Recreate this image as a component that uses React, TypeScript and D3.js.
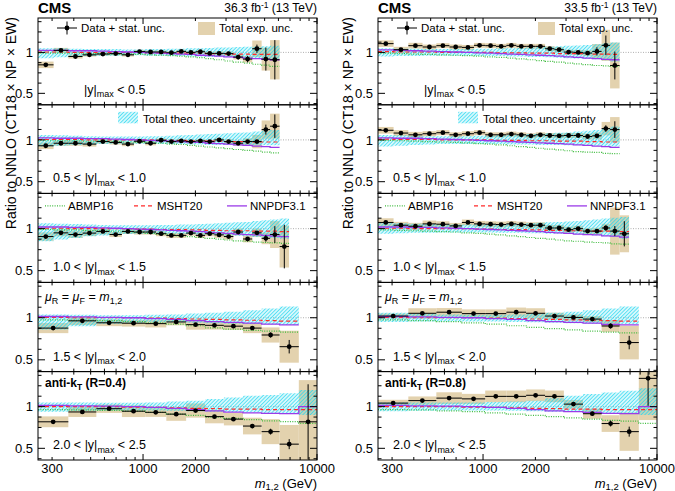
import { useEffect, useRef } from "react";
import * as d3 from "d3";

// dijet mass bin edges (GeV)
const MASS_EDGES = [
  249, 306, 372, 449, 539, 641, 756, 887, 1029, 1187, 1361, 1556, 1769, 2008,
  2273, 2572, 2915, 3306, 3754, 4244, 4805, 5374, 6094, 6908, 7861, 8929, 10050,
];
const MASS_EDGES_COARSE = [
  249, 372, 539, 756, 1029, 1361, 1769, 2273, 2915, 3754, 4805, 6094, 7861, 10050,
];

const X_TICKS_MINOR = [300, 400, 500, 600, 700, 800, 900, 2000, 3000, 4000, 5000, 6000, 7000, 8000, 9000];
const X_TICKS_MAJOR = [1000, 10000];
const X_TICK_LABELS = [300, 1000, 2000, 10000];
const Y_TICKS_MAJOR = [0.5, 1];
const Y_TICKS_MINOR = [0.375, 0.625, 0.75, 0.875, 1.125, 1.25, 1.375];
const Y_TICK_LABELS = ["0.5", "1"];
const Y_BINS = ["0.5", "1.0", "1.5", "2.0", "2.5"];

// ---------- R = 0.4 (left) ----------
const L1_DATA = [0.848, 1.025, 0.95, 0.97, 0.98, 0.985, 0.97, 1.01, 1.005, 1.005, 0.996, 1.012, 1.0, 1.008, 0.988, 0.988, 0.985, 0.943, 0.918, 1.045, 0.918, 0.91];
const L1_STAT = [0.005, 0.005, 0.005, 0.005, 0.005, 0.005, 0.005, 0.005, 0.005, 0.005, 0.005, 0.005, 0.005, 0.006, 0.008, 0.01, 0.012, 0.03, 0.04, 0.05, 0.14, 0.24];
const L1_EXP = [0.04, 0.03, 0.025, 0.02, 0.02, 0.02, 0.02, 0.02, 0.02, 0.02, 0.02, 0.02, 0.02, 0.02, 0.02, 0.025, 0.025, 0.03, 0.04, 0.1, 0.14, 0.24];
const L1_ABMP = [0.99, 0.99, 0.99, 0.985, 0.985, 0.98, 0.98, 0.975, 0.97, 0.965, 0.96, 0.955, 0.945, 0.935, 0.925, 0.91, 0.895, 0.88, 0.87, 0.855, 0.845, 0.83];
const L1_MSHT = [1.005, 1.005, 1.0, 1.0, 1.0, 1.0, 1.0, 1.0, 0.995, 0.995, 0.995, 0.99, 0.99, 0.99, 0.985, 0.985, 0.98, 0.98, 0.98, 0.975, 0.975, 0.975];
const L1_NNPDF = [1.025, 1.025, 1.02, 1.02, 1.015, 1.01, 1.005, 1.0, 0.995, 0.99, 0.985, 0.98, 0.975, 0.965, 0.96, 0.955, 0.945, 0.94, 0.93, 0.925, 0.915, 0.91];
const L1_THLO = [0.93, 0.94, 0.95, 0.955, 0.96, 0.96, 0.965, 0.965, 0.96, 0.96, 0.955, 0.955, 0.95, 0.95, 0.945, 0.945, 0.94, 0.935, 0.93, 0.93, 0.925, 0.92];
const L1_THHI = [1.05, 1.05, 1.045, 1.04, 1.04, 1.04, 1.035, 1.035, 1.04, 1.04, 1.045, 1.045, 1.05, 1.05, 1.055, 1.06, 1.06, 1.065, 1.07, 1.07, 1.075, 1.08];

const L2_DATA = [0.93, 0.96, 0.96, 0.95, 0.98, 0.97, 0.95, 0.984, 0.96, 0.996, 0.98, 0.988, 0.98, 0.988, 0.98, 1.0, 0.98, 0.96, 0.98, 0.98, 1.123, 1.164];
const L2_STAT = [0.005, 0.005, 0.005, 0.005, 0.005, 0.005, 0.005, 0.005, 0.005, 0.005, 0.005, 0.005, 0.005, 0.005, 0.005, 0.005, 0.005, 0.01, 0.015, 0.02, 0.06, 0.14];
const L2_EXP = [0.04, 0.03, 0.03, 0.03, 0.025, 0.025, 0.025, 0.025, 0.025, 0.02, 0.02, 0.02, 0.02, 0.02, 0.02, 0.02, 0.025, 0.03, 0.04, 0.08, 0.11, 0.15];
const L2_ABMP = [0.99, 0.99, 0.99, 0.985, 0.985, 0.98, 0.975, 0.97, 0.965, 0.96, 0.95, 0.945, 0.935, 0.925, 0.915, 0.905, 0.895, 0.885, 0.875, 0.865, 0.855, 0.845];
const L2_MSHT = [1.005, 1.005, 1.005, 1.0, 1.0, 1.0, 1.0, 1.0, 1.0, 0.995, 0.995, 0.995, 0.99, 0.99, 0.985, 0.985, 0.98, 0.98, 0.98, 0.975, 0.975, 0.975];
const L2_NNPDF = [1.025, 1.02, 1.02, 1.015, 1.015, 1.01, 1.005, 1.0, 0.995, 0.99, 0.985, 0.98, 0.975, 0.97, 0.96, 0.955, 0.95, 0.94, 0.935, 0.925, 0.92, 0.91];
const L2_THLO = [0.92, 0.93, 0.94, 0.945, 0.95, 0.955, 0.955, 0.955, 0.955, 0.95, 0.95, 0.95, 0.945, 0.945, 0.94, 0.94, 0.94, 0.935, 0.935, 0.935, 0.935, 0.935];
const L2_THHI = [1.06, 1.055, 1.05, 1.045, 1.04, 1.04, 1.04, 1.04, 1.045, 1.045, 1.05, 1.055, 1.06, 1.065, 1.07, 1.075, 1.08, 1.085, 1.09, 1.1, 1.11, 1.12];

const L3_DATA = [0.906, 0.95, 0.93, 0.947, 0.967, 0.93, 0.967, 0.96, 0.96, 0.94, 0.92, 0.92, 0.947, 0.92, 0.94, 0.926, 0.906, 0.96, 0.877, 0.95, 0.885, 0.93, 0.787];
const L3_STAT = [0.005, 0.005, 0.005, 0.005, 0.005, 0.005, 0.005, 0.005, 0.005, 0.005, 0.005, 0.005, 0.005, 0.005, 0.005, 0.005, 0.01, 0.01, 0.015, 0.02, 0.04, 0.1, 0.26];
const L3_EXP = [0.05, 0.04, 0.04, 0.035, 0.035, 0.03, 0.03, 0.03, 0.03, 0.03, 0.03, 0.03, 0.03, 0.03, 0.03, 0.035, 0.035, 0.04, 0.04, 0.05, 0.07, 0.16, 0.25];
const L3_ABMP = [0.99, 0.985, 0.985, 0.98, 0.975, 0.97, 0.965, 0.955, 0.945, 0.935, 0.925, 0.915, 0.905, 0.895, 0.885, 0.875, 0.865, 0.855, 0.85, 0.84, 0.835, 0.83, 0.825];
const L3_MSHT = [1.005, 1.005, 1.0, 1.0, 1.0, 1.0, 1.0, 0.995, 0.995, 0.99, 0.99, 0.99, 0.985, 0.985, 0.98, 0.98, 0.975, 0.975, 0.975, 0.97, 0.97, 0.97, 0.965];
const L3_NNPDF = [1.02, 1.02, 1.015, 1.015, 1.01, 1.005, 1.0, 0.995, 0.99, 0.985, 0.98, 0.975, 0.97, 0.965, 0.955, 0.95, 0.945, 0.935, 0.93, 0.925, 0.92, 0.91, 0.905];
const L3_THLO = [0.85, 0.87, 0.89, 0.91, 0.92, 0.93, 0.935, 0.94, 0.94, 0.94, 0.94, 0.935, 0.935, 0.93, 0.93, 0.925, 0.92, 0.915, 0.91, 0.9, 0.895, 0.89, 0.88];
const L3_THHI = [1.065, 1.06, 1.055, 1.05, 1.045, 1.04, 1.04, 1.04, 1.04, 1.045, 1.045, 1.05, 1.05, 1.055, 1.06, 1.065, 1.07, 1.075, 1.08, 1.09, 1.1, 1.11, 1.12];

const L4_DATA = [0.877, 0.963, 0.94, 0.935, 0.93, 0.95, 0.918, 0.91, 0.9, 0.877, 0.795, 0.656];
const L4_STAT = [0.008, 0.008, 0.008, 0.008, 0.008, 0.01, 0.01, 0.012, 0.015, 0.02, 0.03, 0.08];
const L4_EXP = [0.06, 0.05, 0.04, 0.04, 0.045, 0.04, 0.06, 0.05, 0.045, 0.06, 0.09, 0.19];
const L4_ABMP = [0.975, 0.97, 0.965, 0.955, 0.94, 0.925, 0.905, 0.88, 0.865, 0.85, 0.84, 0.83];
const L4_MSHT = [1.005, 1.0, 1.0, 1.0, 0.995, 0.99, 0.985, 0.98, 0.975, 0.97, 0.965, 0.96];
const L4_NNPDF = [1.015, 1.01, 1.005, 1.0, 0.99, 0.98, 0.965, 0.955, 0.945, 0.935, 0.925, 0.915];
const L4_THLO = [0.86, 0.9, 0.93, 0.94, 0.945, 0.945, 0.94, 0.935, 0.93, 0.925, 0.92, 0.915];
const L4_THHI = [1.04, 1.035, 1.03, 1.03, 1.035, 1.04, 1.05, 1.06, 1.07, 1.09, 1.11, 1.135];

const L5_DATA = [0.818, 0.936, 0.975, 0.945, 0.932, 0.91, 0.953, 0.88, 0.85, 0.767, 0.7, 0.55, 0.818];
const L5_STAT = [0.01, 0.008, 0.008, 0.008, 0.01, 0.01, 0.012, 0.015, 0.02, 0.025, 0.035, 0.06, 0.45];
const L5_EXP = [0.065, 0.06, 0.05, 0.07, 0.055, 0.08, 0.085, 0.08, 0.075, 0.1, 0.15, 0.23, 0.5];
const L5_ABMP = [0.965, 0.96, 0.955, 0.945, 0.93, 0.91, 0.895, 0.875, 0.86, 0.845, 0.83, 0.82, 0.8];
const L5_MSHT = [1.0, 1.0, 1.0, 0.995, 0.99, 0.985, 0.98, 0.975, 0.97, 0.97, 0.965, 0.965, 0.965];
const L5_NNPDF = [1.015, 1.01, 1.005, 1.0, 0.99, 0.98, 0.965, 0.95, 0.935, 0.925, 0.92, 0.915, 1.0];
const L5_THLO = [0.94, 0.95, 0.955, 0.955, 0.955, 0.95, 0.945, 0.94, 0.935, 0.93, 0.925, 0.925, 0.9];
const L5_THHI = [1.05, 1.05, 1.045, 1.045, 1.05, 1.06, 1.07, 1.09, 1.11, 1.13, 1.14, 1.16, 1.2];

// ---------- R = 0.8 (right) ----------
const R1_DATA = [1.107, 1.033, 1.082, 1.066, 1.082, 1.066, 1.061, 1.086, 1.082, 1.074, 1.086, 1.074, 1.074, 1.074, 1.045, 1.033, 1.004, 1.0, 0.992, 1.012, 1.086, 0.84];
const R1_STAT = [0.006, 0.006, 0.006, 0.006, 0.006, 0.006, 0.006, 0.006, 0.006, 0.006, 0.006, 0.006, 0.006, 0.006, 0.006, 0.006, 0.01, 0.012, 0.015, 0.05, 0.12, 0.17];
const R1_EXP = [0.04, 0.035, 0.035, 0.03, 0.03, 0.03, 0.03, 0.03, 0.03, 0.03, 0.03, 0.03, 0.03, 0.03, 0.03, 0.03, 0.03, 0.03, 0.035, 0.09, 0.19, 0.28];
const R1_ABMP = [0.99, 0.985, 0.98, 0.975, 0.97, 0.965, 0.96, 0.955, 0.945, 0.94, 0.93, 0.92, 0.91, 0.9, 0.89, 0.88, 0.87, 0.86, 0.85, 0.84, 0.835, 0.83];
const R1_MSHT = [1.01, 1.005, 1.005, 1.005, 1.0, 1.0, 1.0, 1.0, 1.0, 0.995, 0.995, 0.995, 0.99, 0.99, 0.99, 0.985, 0.985, 0.985, 0.98, 0.98, 0.98, 0.975];
const R1_NNPDF = [1.03, 1.025, 1.02, 1.015, 1.01, 1.005, 1.0, 0.995, 0.99, 0.985, 0.98, 0.975, 0.97, 0.965, 0.96, 0.955, 0.945, 0.94, 0.93, 0.925, 0.915, 0.91];
const R1_THLO = [0.95, 0.955, 0.955, 0.96, 0.96, 0.96, 0.96, 0.955, 0.955, 0.955, 0.95, 0.95, 0.945, 0.945, 0.94, 0.935, 0.93, 0.925, 0.92, 0.915, 0.905, 0.89];
const R1_THHI = [1.05, 1.045, 1.045, 1.04, 1.04, 1.04, 1.04, 1.045, 1.045, 1.05, 1.05, 1.055, 1.06, 1.065, 1.07, 1.075, 1.08, 1.085, 1.09, 1.1, 1.11, 1.12];

const R2_DATA = [1.115, 1.082, 1.061, 1.074, 1.086, 1.061, 1.074, 1.086, 1.061, 1.061, 1.07, 1.061, 1.049, 1.061, 1.053, 1.049, 1.053, 1.053, 1.041, 1.049, 1.135, 1.123];
const R2_STAT = [0.006, 0.006, 0.006, 0.006, 0.006, 0.006, 0.006, 0.006, 0.006, 0.006, 0.006, 0.006, 0.006, 0.006, 0.006, 0.006, 0.006, 0.006, 0.01, 0.015, 0.04, 0.1];
const R2_EXP = [0.04, 0.035, 0.035, 0.03, 0.03, 0.03, 0.03, 0.03, 0.03, 0.03, 0.03, 0.03, 0.03, 0.03, 0.03, 0.03, 0.03, 0.03, 0.035, 0.04, 0.08, 0.15];
const R2_ABMP = [0.995, 0.99, 0.985, 0.98, 0.975, 0.97, 0.965, 0.955, 0.95, 0.94, 0.93, 0.92, 0.91, 0.9, 0.89, 0.88, 0.87, 0.86, 0.855, 0.85, 0.84, 0.835];
const R2_MSHT = [1.01, 1.005, 1.005, 1.005, 1.0, 1.0, 1.0, 1.0, 1.0, 0.995, 0.995, 0.995, 0.99, 0.99, 0.99, 0.985, 0.985, 0.985, 0.98, 0.98, 0.975, 0.975];
const R2_NNPDF = [1.025, 1.02, 1.02, 1.015, 1.01, 1.005, 1.0, 0.995, 0.99, 0.985, 0.98, 0.975, 0.97, 0.965, 0.96, 0.955, 0.95, 0.94, 0.935, 0.925, 0.92, 0.91];
const R2_THLO = [0.92, 0.93, 0.94, 0.945, 0.95, 0.95, 0.95, 0.95, 0.95, 0.95, 0.945, 0.945, 0.945, 0.94, 0.94, 0.94, 0.935, 0.935, 0.93, 0.93, 0.925, 0.92];
const R2_THHI = [1.06, 1.055, 1.05, 1.045, 1.045, 1.045, 1.045, 1.05, 1.05, 1.055, 1.06, 1.065, 1.07, 1.075, 1.08, 1.085, 1.09, 1.1, 1.11, 1.12, 1.14, 1.16];

const R3_DATA = [1.074, 1.041, 1.029, 1.057, 1.053, 1.033, 1.074, 1.057, 1.053, 1.049, 1.057, 1.049, 1.041, 1.041, 1.008, 1.008, 0.988, 1.0, 0.971, 0.971, 1.008, 0.971, 0.939];
const R3_STAT = [0.006, 0.006, 0.006, 0.006, 0.006, 0.006, 0.006, 0.006, 0.006, 0.006, 0.006, 0.006, 0.006, 0.006, 0.006, 0.006, 0.006, 0.01, 0.012, 0.015, 0.03, 0.06, 0.15];
const R3_EXP = [0.05, 0.04, 0.04, 0.04, 0.035, 0.035, 0.035, 0.035, 0.035, 0.035, 0.035, 0.035, 0.035, 0.035, 0.035, 0.035, 0.035, 0.035, 0.035, 0.04, 0.05, 0.28, 0.22];
const R3_ABMP = [0.985, 0.98, 0.975, 0.97, 0.965, 0.96, 0.95, 0.945, 0.935, 0.925, 0.915, 0.905, 0.895, 0.885, 0.875, 0.865, 0.855, 0.85, 0.84, 0.835, 0.83, 0.82, 0.815];
const R3_MSHT = [1.005, 1.005, 1.0, 1.0, 1.0, 1.0, 1.0, 0.995, 0.995, 0.99, 0.99, 0.99, 0.985, 0.985, 0.98, 0.98, 0.975, 0.975, 0.975, 0.97, 0.97, 0.97, 0.965];
const R3_NNPDF = [1.02, 1.02, 1.015, 1.015, 1.01, 1.005, 1.0, 0.995, 0.99, 0.985, 0.98, 0.975, 0.97, 0.965, 0.955, 0.95, 0.945, 0.935, 0.93, 0.925, 0.915, 0.91, 0.9];
const R3_THLO = [0.94, 0.945, 0.95, 0.95, 0.955, 0.955, 0.955, 0.955, 0.955, 0.95, 0.95, 0.95, 0.945, 0.945, 0.94, 0.94, 0.935, 0.93, 0.925, 0.92, 0.91, 0.9, 0.88];
const R3_THHI = [1.07, 1.065, 1.06, 1.055, 1.05, 1.05, 1.05, 1.05, 1.055, 1.055, 1.06, 1.06, 1.065, 1.07, 1.075, 1.08, 1.085, 1.09, 1.1, 1.11, 1.12, 1.13, 1.14];

const R4_DATA = [1.02, 1.053, 1.066, 1.049, 1.049, 1.066, 1.053, 1.02, 1.004, 0.984, 0.902, 0.705];
const R4_STAT = [0.008, 0.008, 0.008, 0.008, 0.01, 0.01, 0.01, 0.012, 0.015, 0.02, 0.03, 0.08];
const R4_EXP = [0.03, 0.06, 0.05, 0.05, 0.05, 0.055, 0.06, 0.04, 0.035, 0.035, 0.07, 0.2];
const R4_ABMP = [0.975, 0.965, 0.955, 0.94, 0.925, 0.905, 0.885, 0.87, 0.855, 0.84, 0.83, 0.82];
const R4_MSHT = [1.005, 1.0, 1.0, 1.0, 0.995, 0.99, 0.985, 0.98, 0.975, 0.97, 0.965, 0.96];
const R4_NNPDF = [1.015, 1.01, 1.005, 1.0, 0.99, 0.98, 0.965, 0.955, 0.945, 0.935, 0.92, 0.915];
const R4_THLO = [0.95, 0.955, 0.955, 0.955, 0.955, 0.95, 0.945, 0.94, 0.935, 0.93, 0.93, 0.925];
const R4_THHI = [1.06, 1.05, 1.04, 1.035, 1.035, 1.04, 1.05, 1.06, 1.07, 1.09, 1.11, 1.135];

const R5_DATA = [1.042, 1.072, 1.102, 1.093, 1.123, 1.123, 1.136, 1.123, 1.03, 0.915, 0.797, 0.7, 1.339];
const R5_STAT = [0.008, 0.008, 0.008, 0.01, 0.01, 0.012, 0.012, 0.015, 0.02, 0.025, 0.035, 0.06, 0.33];
const R5_EXP = [0.04, 0.05, 0.07, 0.06, 0.07, 0.07, 0.07, 0.07, 0.05, 0.06, 0.1, 0.23, 0.5];
const R5_ABMP = [0.965, 0.96, 0.95, 0.94, 0.925, 0.91, 0.895, 0.88, 0.865, 0.85, 0.835, 0.825, 0.8];
const R5_MSHT = [1.0, 1.0, 1.0, 0.995, 0.99, 0.985, 0.98, 0.975, 0.97, 0.97, 0.965, 0.965, 0.965];
const R5_NNPDF = [1.015, 1.01, 1.005, 1.0, 0.99, 0.98, 0.965, 0.95, 0.94, 0.93, 0.92, 0.915, 1.0];
const R5_THLO = [0.945, 0.95, 0.955, 0.955, 0.955, 0.95, 0.945, 0.94, 0.935, 0.93, 0.925, 0.92, 0.9];
const R5_THHI = [1.05, 1.05, 1.05, 1.05, 1.055, 1.06, 1.07, 1.1, 1.13, 1.15, 1.17, 1.19, 1.22];

interface Panel {
  edges: number[];
  data: number[];
  stat: number[];
  exp: number[];
  abmp: number[];
  msht: number[];
  nnpdf: number[];
  thLo: number[];
  thHi: number[];
}

const LEFT: Panel[] = [
  { edges: MASS_EDGES, data: L1_DATA, stat: L1_STAT, exp: L1_EXP, abmp: L1_ABMP, msht: L1_MSHT, nnpdf: L1_NNPDF, thLo: L1_THLO, thHi: L1_THHI },
  { edges: MASS_EDGES, data: L2_DATA, stat: L2_STAT, exp: L2_EXP, abmp: L2_ABMP, msht: L2_MSHT, nnpdf: L2_NNPDF, thLo: L2_THLO, thHi: L2_THHI },
  { edges: MASS_EDGES, data: L3_DATA, stat: L3_STAT, exp: L3_EXP, abmp: L3_ABMP, msht: L3_MSHT, nnpdf: L3_NNPDF, thLo: L3_THLO, thHi: L3_THHI },
  { edges: MASS_EDGES_COARSE, data: L4_DATA, stat: L4_STAT, exp: L4_EXP, abmp: L4_ABMP, msht: L4_MSHT, nnpdf: L4_NNPDF, thLo: L4_THLO, thHi: L4_THHI },
  { edges: MASS_EDGES_COARSE, data: L5_DATA, stat: L5_STAT, exp: L5_EXP, abmp: L5_ABMP, msht: L5_MSHT, nnpdf: L5_NNPDF, thLo: L5_THLO, thHi: L5_THHI },
];
const RIGHT: Panel[] = [
  { edges: MASS_EDGES, data: R1_DATA, stat: R1_STAT, exp: R1_EXP, abmp: R1_ABMP, msht: R1_MSHT, nnpdf: R1_NNPDF, thLo: R1_THLO, thHi: R1_THHI },
  { edges: MASS_EDGES, data: R2_DATA, stat: R2_STAT, exp: R2_EXP, abmp: R2_ABMP, msht: R2_MSHT, nnpdf: R2_NNPDF, thLo: R2_THLO, thHi: R2_THHI },
  { edges: MASS_EDGES, data: R3_DATA, stat: R3_STAT, exp: R3_EXP, abmp: R3_ABMP, msht: R3_MSHT, nnpdf: R3_NNPDF, thLo: R3_THLO, thHi: R3_THHI },
  { edges: MASS_EDGES_COARSE, data: R4_DATA, stat: R4_STAT, exp: R4_EXP, abmp: R4_ABMP, msht: R4_MSHT, nnpdf: R4_NNPDF, thLo: R4_THLO, thHi: R4_THHI },
  { edges: MASS_EDGES_COARSE, data: R5_DATA, stat: R5_STAT, exp: R5_EXP, abmp: R5_ABMP, msht: R5_MSHT, nnpdf: R5_NNPDF, thLo: R5_THLO, thHi: R5_THHI },
];

const SIDES = [
  { x0: 38, x1: 317, lumi: "36.3", jet: "0.4", titleX: 15.5, panels: LEFT },
  { x0: 378, x1: 657, lumi: "33.5", jet: "0.8", titleX: 352.5, panels: RIGHT },
];

const WIDTH = 675;
const HEIGHT = 491;
const PANEL_Y = [18, 104.8, 193.4, 282.4, 371.6, 460];
const X_DOMAIN = [249, 10000];
const Y_DOMAIN = [0.36, 1.42];

const TAN = "#e3d2ae";
const CYAN = "#22d6ef";
const GREEN = "#3dbb3d";
const RED = "#ff2a2a";
const PURPLE = "#9b3be8";
const FONT = "'Liberation Sans', Arial, Helvetica, sans-serif";

export default function App() {
  const svgRef = useRef<SVGSVGElement>(null);

  useEffect(() => {
    if (!svgRef.current) return;
    const svg = d3.select(svgRef.current);
    svg.selectAll("*").remove();
    svg.attr("font-family", FONT);

    const defs = svg.append("defs");
    const pat = defs
      .append("pattern")
      .attr("id", "theoHatch")
      .attr("patternUnits", "userSpaceOnUse")
      .attr("width", 2.6)
      .attr("height", 2.6)
      .attr("patternTransform", "rotate(45)");
    pat.append("rect").attr("width", 2.6).attr("height", 2.6).attr("fill", CYAN).attr("fill-opacity", 0.18);
    pat
      .append("line")
      .attr("x1", 0)
      .attr("y1", 0)
      .attr("x2", 0)
      .attr("y2", 2.6)
      .attr("stroke", CYAN)
      .attr("stroke-width", 1.3);

    SIDES.forEach((side, si) => {
      const x = d3.scaleLog().domain(X_DOMAIN).range([side.x0, side.x1]);

      side.panels.forEach((p, pi) => {
        const top = PANEL_Y[pi];
        const bottom = PANEL_Y[pi + 1];
        const y = d3.scaleLinear().domain(Y_DOMAIN).range([bottom, top]);
        const clipId = `clip-${si}-${pi}`;
        defs
          .append("clipPath")
          .attr("id", clipId)
          .append("rect")
          .attr("x", side.x0)
          .attr("y", top)
          .attr("width", side.x1 - side.x0)
          .attr("height", bottom - top);

        const g = svg.append("g");
        const plot = g.append("g").attr("clip-path", `url(#${clipId})`);

        // dotted reference at 1
        plot
          .append("line")
          .attr("x1", side.x0)
          .attr("x2", side.x1)
          .attr("y1", y(1))
          .attr("y2", y(1))
          .attr("stroke", "#9a9a9a")
          .attr("stroke-width", 0.8)
          .attr("stroke-dasharray", "1,1.5");

        const bins = p.data.map((v, i) => ({
          lo: p.edges[i],
          hi: p.edges[i + 1],
          v,
          stat: p.stat[i],
          exp: p.exp[i],
        }));

        // total exp. unc. boxes
        plot
          .append("g")
          .selectAll("rect")
          .data(bins)
          .join("rect")
          .attr("x", (d) => x(d.lo))
          .attr("width", (d) => x(d.hi) - x(d.lo))
          .attr("y", (d) => y(d.v + d.exp))
          .attr("height", (d) => y(d.v - d.exp) - y(d.v + d.exp))
          .attr("fill", TAN);

        // theory band
        const n = p.data.length;
        const bandPts = [
          ...p.thLo.map((lo, i) => ({ m: p.edges[i], lo, hi: p.thHi[i] })),
          { m: p.edges[n], lo: p.thLo[n - 1], hi: p.thHi[n - 1] },
        ];
        const area = d3
          .area<{ m: number; lo: number; hi: number }>()
          .x((d) => x(d.m))
          .y0((d) => y(d.lo))
          .y1((d) => y(d.hi))
          .curve(d3.curveStepAfter);
        plot.append("path").attr("d", area(bandPts)).attr("fill", "url(#theoHatch)");

        // PDF curves
        const stepLine = d3
          .line<{ m: number; v: number }>()
          .x((d) => x(d.m))
          .y((d) => y(d.v))
          .curve(d3.curveStepAfter);
        const toSteps = (vals: number[]) => [
          ...vals.map((v, i) => ({ m: p.edges[i], v })),
          { m: p.edges[vals.length], v: vals[vals.length - 1] },
        ];
        plot
          .append("path")
          .attr("d", stepLine(toSteps(p.abmp)))
          .attr("fill", "none")
          .attr("stroke", GREEN)
          .attr("stroke-width", 1.2)
          .attr("stroke-dasharray", "1,1.4");
        plot
          .append("path")
          .attr("d", stepLine(toSteps(p.msht)))
          .attr("fill", "none")
          .attr("stroke", RED)
          .attr("stroke-width", 1.2)
          .attr("stroke-dasharray", "4,3");
        plot
          .append("path")
          .attr("d", stepLine(toSteps(p.nnpdf)))
          .attr("fill", "none")
          .attr("stroke", PURPLE)
          .attr("stroke-width", 1.3);

        // data points
        const pts = plot.append("g").selectAll("g").data(bins).join("g");
        pts
          .append("line")
          .attr("x1", (d) => x(d.lo))
          .attr("x2", (d) => x(d.hi))
          .attr("y1", (d) => y(d.v))
          .attr("y2", (d) => y(d.v))
          .attr("stroke", "#000")
          .attr("stroke-width", 1);
        pts
          .append("line")
          .attr("x1", (d) => x(Math.sqrt(d.lo * d.hi)))
          .attr("x2", (d) => x(Math.sqrt(d.lo * d.hi)))
          .attr("y1", (d) => y(d.v - d.stat))
          .attr("y2", (d) => y(d.v + d.stat))
          .attr("stroke", "#000")
          .attr("stroke-width", 1);
        pts
          .append("circle")
          .attr("cx", (d) => x(Math.sqrt(d.lo * d.hi)))
          .attr("cy", (d) => y(d.v))
          .attr("r", 2.4)
          .attr("fill", "#000");

        // frame
        g.append("rect")
          .attr("x", side.x0)
          .attr("y", top)
          .attr("width", side.x1 - side.x0)
          .attr("height", bottom - top)
          .attr("fill", "none")
          .attr("stroke", "#000")
          .attr("stroke-width", 1);

        // ticks
        const tickG = g.append("g").attr("stroke", "#000").attr("stroke-width", 1);
        const xTick = (t: number, len: number) => {
          tickG.append("line").attr("x1", x(t)).attr("x2", x(t)).attr("y1", bottom).attr("y2", bottom - len);
          tickG.append("line").attr("x1", x(t)).attr("x2", x(t)).attr("y1", top).attr("y2", top + len);
        };
        X_TICKS_MINOR.forEach((t) => xTick(t, 3));
        X_TICKS_MAJOR.forEach((t) => xTick(t, 6));
        const yTick = (t: number, len: number) => {
          tickG.append("line").attr("x1", side.x0).attr("x2", side.x0 + len).attr("y1", y(t)).attr("y2", y(t));
          tickG.append("line").attr("x1", side.x1).attr("x2", side.x1 - len).attr("y1", y(t)).attr("y2", y(t));
        };
        Y_TICKS_MINOR.forEach((t) => yTick(t, 3.5));
        Y_TICKS_MAJOR.forEach((t) => yTick(t, 7));

        Y_TICKS_MAJOR.forEach((t, i) => {
          g.append("text")
            .attr("x", side.x0 - 5)
            .attr("y", y(t))
            .attr("dy", "0.36em")
            .attr("text-anchor", "end")
            .attr("font-size", "13px")
            .text(Y_TICK_LABELS[i]);
        });

        // rapidity label
        const rl = g
          .append("text")
          .attr("x", side.x0 + (pi === 0 ? 46 : 15))
          .attr("y", bottom - 11)
          .attr("font-size", "12.5px");
        if (pi > 0) rl.append("tspan").text(`${Y_BINS[pi - 1]} < `);
        rl.append("tspan").text("|y|");
        rl.append("tspan").attr("dy", 3.5).attr("font-size", "9px").text("max");
        rl.append("tspan").attr("dy", -3.5).text(` < ${Y_BINS[pi]}`);

        // legends / annotations
        if (pi === 0) {
          const lx = side.x0 + 29;
          const ly = top + 10;
          g.append("line").attr("x1", lx - 10).attr("x2", lx + 10).attr("y1", ly).attr("y2", ly).attr("stroke", "#000");
          g.append("line").attr("x1", lx).attr("x2", lx).attr("y1", ly - 6.5).attr("y2", ly + 6.5).attr("stroke", "#000");
          g.append("circle").attr("cx", lx).attr("cy", ly).attr("r", 2.4).attr("fill", "#000");
          g.append("text").attr("x", side.x0 + 43).attr("y", top + 14).attr("font-size", "11.5px").text("Data + stat. unc.");
          g.append("rect")
            .attr("x", side.x0 + 160)
            .attr("y", top + 4)
            .attr("width", 17)
            .attr("height", 13)
            .attr("fill", TAN);
          g.append("text").attr("x", side.x0 + 181).attr("y", top + 14).attr("font-size", "11.5px").text("Total exp. unc.");
        } else if (pi === 1) {
          g.append("rect")
            .attr("x", side.x0 + 80)
            .attr("y", top + 7)
            .attr("width", 20)
            .attr("height", 11.5)
            .attr("fill", "url(#theoHatch)");
          g.append("text").attr("x", side.x0 + 105).attr("y", top + 18).attr("font-size", "11.5px").text("Total theo. uncertainty");
        } else if (pi === 2) {
          const ly = top + 12.5;
          const entries = [
            { name: "ABMP16", x: 7, color: GREEN, dash: "1,1.4", w: 1.2 },
            { name: "MSHT20", x: 96, color: RED, dash: "4,3", w: 1.2 },
            { name: "NNPDF3.1", x: 189, color: PURPLE, dash: null, w: 1.3 },
          ];
          entries.forEach((e) => {
            g.append("line")
              .attr("x1", side.x0 + e.x)
              .attr("x2", side.x0 + e.x + 20)
              .attr("y1", ly)
              .attr("y2", ly)
              .attr("stroke", e.color)
              .attr("stroke-width", e.w)
              .attr("stroke-dasharray", e.dash);
            g.append("text")
              .attr("x", side.x0 + e.x + 23)
              .attr("y", ly + 4)
              .attr("font-size", "11.5px")
              .text(e.name);
          });
        } else if (pi === 3) {
          const t = g.append("text").attr("x", side.x0 + 7).attr("y", top + 18.5).attr("font-size", "12.5px");
          t.append("tspan").attr("font-style", "italic").text("μ");
          t.append("tspan").attr("dy", 3).attr("font-size", "9px").text("R");
          t.append("tspan").attr("dy", -3).text(" = ");
          t.append("tspan").attr("font-style", "italic").text("μ");
          t.append("tspan").attr("dy", 3).attr("font-size", "9px").text("F");
          t.append("tspan").attr("dy", -3).text(" = ");
          t.append("tspan").attr("font-style", "italic").text("m");
          t.append("tspan").attr("dy", 3).attr("font-size", "9px").text("1,2");
        } else if (pi === 4) {
          const t = g
            .append("text")
            .attr("x", side.x0 + 7)
            .attr("y", top + 15)
            .attr("font-size", "12px")
            .attr("font-weight", "bold");
          t.append("tspan").text("anti-k");
          t.append("tspan").attr("dy", 3).attr("font-size", "8.5px").text("T");
          t.append("tspan").attr("dy", -3).text(` (R=${side.jet})`);
        }
      });

      // x tick labels
      X_TICK_LABELS.forEach((t) => {
        svg
          .append("text")
          .attr("x", x(t))
          .attr("y", 472.5)
          .attr("text-anchor", "middle")
          .attr("font-size", "13px")
          .text(String(t));
      });

      // x title
      const xt = svg
        .append("text")
        .attr("x", side.x1)
        .attr("y", 487.5)
        .attr("text-anchor", "end")
        .attr("font-size", "13px");
      xt.append("tspan").attr("font-style", "italic").text("m");
      xt.append("tspan").attr("dy", 2.5).attr("font-size", "9.5px").text("1,2");
      xt.append("tspan").attr("dy", -2.5).text(" (GeV)");

      // y title
      svg
        .append("text")
        .attr("transform", `translate(${side.titleX},17) rotate(-90)`)
        .attr("text-anchor", "end")
        .attr("font-size", "14px")
        .text("Ratio to NNLO (CT18 × NP × EW)");

      // header
      svg
        .append("text")
        .attr("x", side.x0)
        .attr("y", 12.5)
        .attr("font-size", "15px")
        .attr("font-weight", "bold")
        .text("CMS");
      const lumi = svg
        .append("text")
        .attr("x", side.x1)
        .attr("y", 12)
        .attr("text-anchor", "end")
        .attr("font-size", "12px");
      lumi.append("tspan").text(`${side.lumi} fb`);
      lumi.append("tspan").attr("dy", -4.5).attr("font-size", "8.5px").text("-1");
      lumi.append("tspan").attr("dy", 4.5).text(" (13 TeV)");
    });
  }, []);

  return (
    <svg
      ref={svgRef}
      width={WIDTH}
      height={HEIGHT}
      style={{ position: "absolute", left: 0, top: 0, background: "#fff" }}
    />
  );
}
